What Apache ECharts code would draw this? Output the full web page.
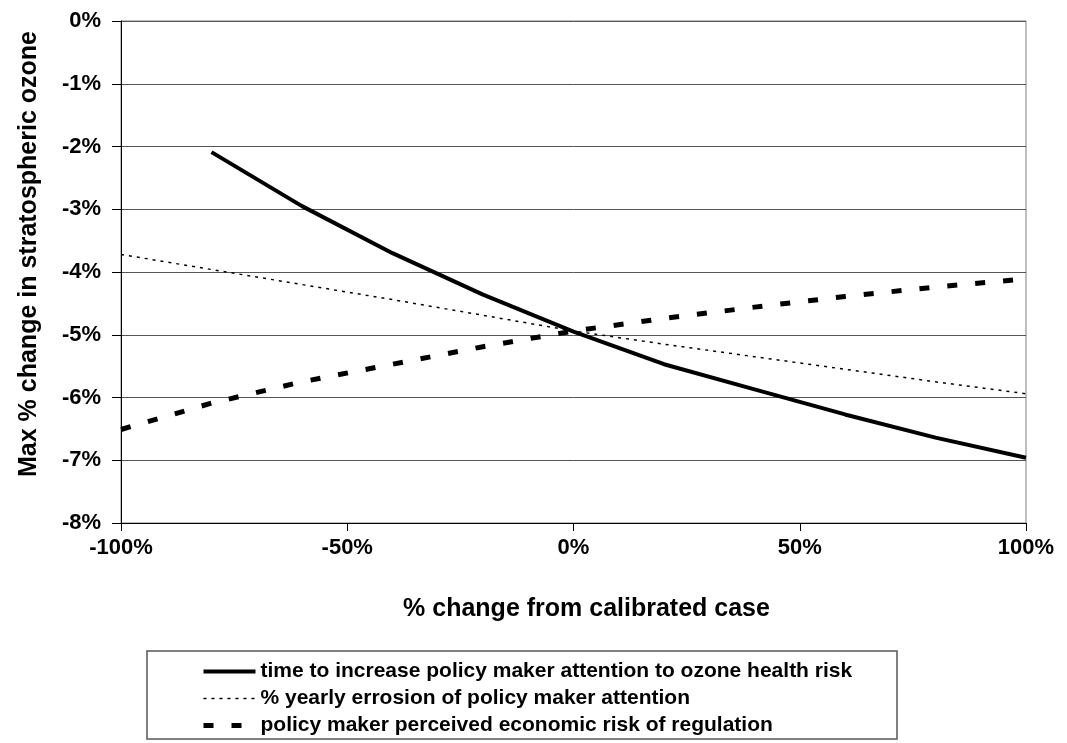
<!DOCTYPE html>
<html>
<head>
<meta charset="utf-8">
<script src="https://cdn.jsdelivr.net/npm/echarts@6/dist/echarts.min.js"></script>
<style>
html, body { margin: 0; padding: 0; background: #fff; }
#chart { width: 1067px; height: 743px; }
</style>
</head>
<body>
<div id="chart"></div>
<script>
// x positions: % change from calibrated case
var xSteps = [-100, -80, -60, -40, -20, 0, 20, 40, 60, 80, 100];
// max % change in stratospheric ozone
var timeToAttention = [null, -2.09, -2.95, -3.70, -4.36, -4.95, -5.47, -5.87, -6.27, -6.64, -6.96];
var yearlyErosion = [-3.72, -3.96, -4.20, -4.44, -4.69, -4.94, -5.15, -5.35, -5.55, -5.75, -5.94];
var economicRisk = [-6.51, -6.09, -5.75, -5.47, -5.19, -4.94, -4.74, -4.56, -4.39, -4.24, -4.11];
var seriesNames = [
  "time to increase policy maker attention to ozone health risk",
  "% yearly errosion of policy maker attention",
  "policy maker perceived economic risk of regulation"
];

function pairs(vals) {
  var out = [];
  vals.forEach(function (v, i) {
    if (v !== null) out.push([xSteps[i], v]);
  });
  return out;
}

var font = "'Liberation Sans', Arial, sans-serif";
var solidStyle = { color: "#000", width: 4 };
var dotStyle = { color: "#000", width: 1.5, type: [3, 5] };
var dashStyle = { color: "#000", width: 5, type: [10, 18] };

var chart = echarts.init(document.getElementById("chart"));

var option = {
  animation: false,
  backgroundColor: "#fff",
  textStyle: { fontFamily: font },
  grid: {
    left: 121, right: 41, top: 21, bottom: 220,
    show: true, borderColor: "#808080", borderWidth: 1
  },
  xAxis: {
    type: "value", min: -100, max: 100, interval: 50,
    name: "% change from calibrated case",
    nameLocation: "middle", nameGap: 74,
    nameTextStyle: { color: "#000", fontWeight: "bold", fontSize: 25, fontFamily: font, padding: [0, 0, 0, 26] },
    axisLine: { onZero: false, lineStyle: { color: "#000", width: 1 } },
    axisTick: { show: true, length: 8, lineStyle: { color: "#000" } },
    axisLabel: { color: "#000", fontWeight: "bold", fontSize: 22, margin: 14, formatter: "{value}%" },
    splitLine: { show: false }
  },
  yAxis: {
    type: "value", min: -8, max: 0, interval: 1,
    name: "Max % change in stratospheric ozone",
    nameLocation: "middle", nameGap: 79, nameRotate: 90,
    nameTextStyle: { color: "#000", fontWeight: "bold", fontSize: 25, fontFamily: font, padding: [0, 0, 0, 36] },
    axisLine: { show: true, onZero: false, lineStyle: { color: "#000", width: 1 } },
    axisTick: { show: true, length: 9, lineStyle: { color: "#000" } },
    axisLabel: { color: "#000", fontWeight: "bold", fontSize: 22, margin: 20, formatter: "{value}%" },
    splitLine: { show: true, lineStyle: { color: "#555", width: 1 } }
  },
  legend: {
    orient: "vertical",
    left: 196, top: 656,
    itemWidth: 52, itemHeight: 14, itemGap: 6,
    itemStyle: { opacity: 0 },
    textStyle: { color: "#000", fontWeight: "bold", fontSize: 21, fontFamily: font },
    data: [
      { name: seriesNames[0], lineStyle: solidStyle },
      { name: seriesNames[1], lineStyle: dotStyle },
      { name: seriesNames[2], lineStyle: dashStyle }
    ]
  },
  graphic: [{
    type: "rect",
    shape: { x: 147, y: 651, width: 750, height: 88 },
    style: { fill: "none", stroke: "#555", lineWidth: 1.5 },
    silent: true
  }],
  series: [
    {
      name: seriesNames[0], type: "line", data: pairs(timeToAttention),
      symbol: "none", lineStyle: solidStyle, itemStyle: { color: "#000" }
    },
    {
      name: seriesNames[1], type: "line", data: pairs(yearlyErosion),
      symbol: "none", lineStyle: dotStyle, itemStyle: { color: "#000" }
    },
    {
      name: seriesNames[2], type: "line", data: pairs(economicRisk),
      symbol: "none", lineStyle: dashStyle, itemStyle: { color: "#000" }
    }
  ]
};
chart.setOption(option);
</script>
</body>
</html>
